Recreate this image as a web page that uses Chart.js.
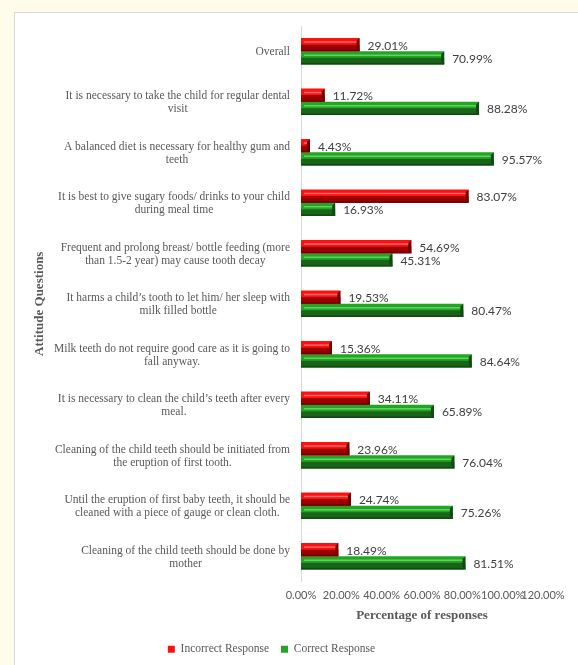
<!DOCTYPE html>
<html>
<head>
<meta charset="utf-8">
<script src="https://cdn.jsdelivr.net/npm/chart.js@4"></script>
<style>
    html, body { margin: 0; padding: 0; overflow: hidden; }
    body { background: #fffcec; width: 578px; height: 665px; position: relative; }
    #panel { position: absolute; left: 14px; top: 12px; width: 600px; height: 700px; background: #fff; border: 1px solid #d9d9d9; }
    #chart { position: absolute; left: 0; top: 0; }
</style>
</head>
<body>
<div id="panel"></div>
<canvas id="chart" width="600" height="665"></canvas>
<script>
var questions = [
    ['Overall'],
    ['It is necessary to take the child for regular dental', 'visit'],
    ['A balanced diet is necessary for healthy gum and', 'teeth'],
    ['It is best to give sugary foods/ drinks to your child', 'during meal time'],
    ['Frequent and prolong breast/ bottle feeding (more', 'than 1.5-2 year) may cause tooth decay'],
    ['It harms a child\u2019s tooth to let him/ her sleep with', 'milk filled bottle'],
    ['Milk teeth do not require good care as it is going to', 'fall anyway.'],
    ['It is necessary to clean the child\u2019s teeth after every', 'meal.'],
    ['Cleaning of the child teeth should be initiated from', 'the eruption of first tooth.'],
    ['Until the eruption of first baby teeth, it should be', 'cleaned with a piece of gauge or clean cloth.'],
    ['Cleaning of the child teeth should be done by', 'mother']
];
var incorrect = [29.01, 11.72, 4.43, 83.07, 54.69, 19.53, 15.36, 34.11, 23.96, 24.74, 18.49];
var correct = [70.99, 88.28, 95.57, 16.93, 45.31, 80.47, 84.64, 65.89, 76.04, 75.26, 81.51];
var xTicks = [0, 20, 40, 60, 80, 100, 120];

var serif = '"Liberation Serif", "Times New Roman", serif';
var sans = 'Lato, Carlito, sans-serif';
var grey = '#595959';

// colores del bisel: claro arriba, oscuro abajo, linea de brillo
var shades = {
    red: { top: '#ff1010', bottom: '#9a0000', edge: '#6e0000', shine: '#ff6a6a' },
    green: { top: '#23a523', bottom: '#1a641a', edge: '#124812', shine: '#5fd35f' }
};

// etiquetas de categoria: bloque alineado a la derecha, lineas centradas
var questionLabels = {
    id: 'questionLabels',
    afterDraw: function(chart) {
        var ctx = chart.ctx;
        var y = chart.scales.y;
        var right = 290;
        var lh = 13;
        ctx.save();
        ctx.font = '11.5px ' + serif;
        ctx.fillStyle = grey;
        ctx.textAlign = 'center';
        ctx.textBaseline = 'middle';
        questions.forEach(function(lines, i) {
            var w = Math.max.apply(null, lines.map(function(l) { return ctx.measureText(l).width; }));
            var cx = right - w / 2;
            var cy = y.getPixelForValue(i) + 1;
            var y0 = cy - (lines.length - 1) * lh / 2;
            lines.forEach(function(l, k) {
                ctx.fillText(l, cx, y0 + k * lh);
            });
        });
        ctx.restore();
    }
};

// sombreado 3D de las barras y etiquetas de valor
var bevelBars = {
    id: 'bevelBars',
    afterDatasetsDraw: function(chart) {
        var ctx = chart.ctx;
        chart.data.datasets.forEach(function(ds, di) {
            var s = shades[ds.shade];
            chart.getDatasetMeta(di).data.forEach(function(bar, i) {
                var left = bar.base, right = bar.x;
                var top = bar.y - bar.height / 2, h = bar.height;
                var mid = top + h * 0.5;
                var b = Math.min(3, (right - left) / 2);
                ctx.save();
                // mitad inferior oscura
                ctx.fillStyle = s.bottom;
                ctx.fillRect(left, mid, right - left, top + h - mid);
                // extremo derecho biselado
                ctx.fillStyle = s.edge;
                ctx.beginPath();
                ctx.moveTo(right - b, top + b);
                ctx.lineTo(right, top);
                ctx.lineTo(right, top + h);
                ctx.lineTo(right - b, top + h - b);
                ctx.closePath();
                ctx.fill();
                ctx.fillRect(left, top + h - 1.5, right - left, 1.5);
                // linea de brillo
                ctx.strokeStyle = s.shine;
                ctx.lineWidth = 1.5;
                ctx.beginPath();
                ctx.moveTo(left + b, top + h * 0.3);
                ctx.lineTo(right - b, top + h * 0.3);
                ctx.stroke();
                // valor
                ctx.font = '12px ' + sans;
                ctx.fillStyle = '#404040';
                ctx.textAlign = 'left';
                ctx.textBaseline = 'middle';
                ctx.fillText(ds.data[i].toFixed(2) + '%', right + 8, bar.y + 1);
                ctx.restore();
            });
        });
    }
};

new Chart(document.getElementById('chart').getContext('2d'), {
    type: 'bar',
    data: {
        labels: questions,
        datasets: [{
            label: 'Incorrect Response',
            data: incorrect,
            shade: 'red',
            backgroundColor: shades.red.top,
            borderWidth: 0
        }, {
            label: 'Correct Response',
            data: correct,
            shade: 'green',
            backgroundColor: shades.green.top,
            borderWidth: 0
        }]
    },
    options: {
        indexAxis: 'y',
        responsive: false,
        animation: false,
        devicePixelRatio: 1,
        layout: { padding: { top: 26, right: 57, bottom: 0, left: 0 } },
        datasets: {
            bar: { barPercentage: 1, categoryPercentage: 0.52 }
        },
        scales: {
            x: {
                min: 0,
                max: 120,
                afterBuildTicks: function(scale) {
                    scale.ticks = xTicks.map(function(v) { return { value: v }; });
                },
                afterFit: function(scale) { scale.height = 50; },
                grid: { display: false, drawTicks: false },
                border: { display: false },
                ticks: {
                    autoSkip: false,
                    padding: 7,
                    color: grey,
                    font: { family: sans, size: 11 },
                    maxRotation: 0,
                    callback: function(v) { return v.toFixed(2) + '%'; }
                },
                title: {
                    display: true,
                    text: 'Percentage of responses',
                    color: grey,
                    font: { family: serif, size: 13, weight: 'bold' },
                    padding: { top: 0, bottom: 8 }
                }
            },
            y: {
                afterFit: function(scale) { scale.width = 301; },
                grid: { display: false, drawTicks: false },
                border: { display: true, color: '#d9d9d9', width: 1 },
                ticks: { display: false },
                title: {
                    display: true,
                    text: 'Attitude Questions',
                    color: grey,
                    font: { family: serif, size: 13, weight: 'bold' },
                    padding: { top: 32, bottom: 0 }
                }
            }
        },
        plugins: {
            legend: {
                position: 'bottom',
                labels: {
                    boxWidth: 7,
                    boxHeight: 7,
                    padding: 12,
                    color: grey,
                    font: { family: serif, size: 11.5 }
                }
            },
            tooltip: { enabled: false }
        }
    },
    plugins: [questionLabels, bevelBars]
});
</script>
</body>
</html>
